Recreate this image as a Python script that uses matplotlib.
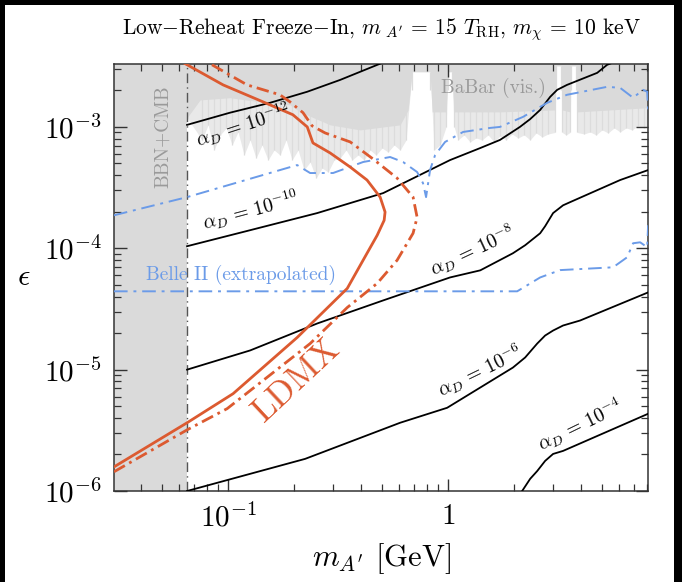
import numpy as np
import matplotlib.pyplot as plt
from matplotlib.patches import Rectangle

plt.rcParams['mathtext.fontset'] = 'cm'
plt.rcParams['font.family'] = ['cmr10', 'DejaVu Serif']
plt.rcParams['axes.formatter.use_mathtext'] = True

# alpha_D contours (m_A' in GeV, epsilon)
m_a12 = [0.0651, 0.102, 0.155, 0.229, 0.323, 0.491, 0.605]
eps_a12 = [1.04e-3, 1.31e-3, 1.58e-3, 1.95e-3, 2.44e-3, 3.32e-3, 3.79e-3]

m_a10 = [0.0651, 0.126, 0.254, 0.507, 1.02, 1.40, 1.72, 2.12, 2.36, 2.62, 2.91, 3.13, 3.47, 4.76,
         5.28, 6.38]
eps_a10 = [1.04e-4, 1.41e-4, 1.95e-4, 2.85e-4, 5.33e-4, 6.70e-4, 7.81e-4, 1.0e-3, 1.16e-3, 1.38e-3,
           1.77e-3, 2.02e-3, 2.22e-3, 2.79e-3, 3.25e-3, 3.71e-3]

m_a8 = [0.0651, 0.126, 0.254, 0.507, 1.02, 1.40, 1.97, 2.24, 2.62, 2.76, 3.0, 3.33, 3.585, 6.05, 8.11]
eps_a8 = [1.0e-5, 1.44e-5, 2.40e-5, 3.72e-5, 5.75e-5, 6.58e-5, 9.1e-5, 1.06e-4, 1.33e-4, 1.52e-4,
          1.95e-4, 2.26e-4, 2.40e-4, 3.65e-4, 4.41e-4]

m_a6 = [0.0651, 0.224, 0.605, 0.99, 1.97, 2.24, 2.54, 2.76, 3.0, 3.33, 3.98, 8.11]
eps_a6 = [1.0e-6, 1.84e-6, 3.65e-6, 4.85e-6, 1.04e-5, 1.26e-5, 1.64e-5, 1.91e-5, 2.10e-5, 2.31e-5,
          2.54e-5, 4.33e-5]

m_a4 = [1.9, 2.17, 2.36, 2.54, 2.76, 3.0, 3.33, 8.11]
eps_a4 = [7e-7, 1.0e-6, 1.26e-6, 1.46e-6, 1.77e-6, 2.02e-6, 2.14e-6, 4.33e-6]

# LDMX reach (solid and dash-dot)
m_ldmx = [0.0303, 0.0651, 0.1054, 0.206, 0.348, 0.428, 0.476, 0.512, 0.517, 0.491, 0.428, 0.359,
          0.291, 0.243, 0.229, 0.197, 0.144, 0.0949, 0.0638, 0.0545]
eps_ldmx = [1.58e-6, 3.65e-6, 6.34e-6, 1.84e-5, 4.67e-5, 9.1e-5, 1.28e-4, 1.70e-4, 1.99e-4, 2.64e-4,
            3.65e-4, 4.67e-4, 6.1e-4, 7.38e-4, 1.0e-3, 1.26e-3, 1.61e-3, 2.22e-3, 3.32e-3, 3.86e-3]

m_ldmx2 = [0.0303, 0.0651, 0.099, 0.236, 0.348, 0.476, 0.586, 0.693, 0.723, 0.693, 0.586, 0.456,
           0.359, 0.276, 0.241, 0.219, 0.191, 0.172, 0.122, 0.0828, 0.0708]
eps_ldmx2 = [1.44e-6, 3.19e-6, 4.77e-6, 1.64e-5, 3.25e-5, 5.14e-5, 7.96e-5, 1.33e-4, 1.80e-4, 2.64e-4,
             3.79e-4, 5.44e-4, 7.52e-4, 8.92e-4, 1.02e-3, 1.31e-3, 1.61e-3, 1.84e-3, 2.22e-3, 3.32e-3,
             3.79e-3]

# blue projections
m_vis = [0.0303, 0.0651, 0.206, 0.236, 0.300, 0.411, 0.545, 0.624, 0.723, 0.769, 0.794, 0.828, 0.873,
         0.969, 1.17, 1.55, 1.72, 2.19, 2.82, 3.47, 5.28, 6.05, 6.93, 7.69, 8.03, 8.11]
eps_vis = [1.87e-4, 2.64e-4, 4.85e-4, 4.17e-4, 4.17e-4, 5.14e-4, 5.65e-4, 5.14e-4, 4.25e-4, 3.44e-4,
           2.64e-4, 4.42e-4, 5.87e-4, 7.52e-4, 9.09e-4, 9.81e-4, 1.0e-3, 1.21e-3, 1.58e-3, 1.84e-3,
           2.14e-3, 2.10e-3, 1.74e-3, 2.02e-3, 1.95e-3, 1.38e-3]

m_belle = [0.0303, 2.06, 2.62, 3.23, 5.62, 6.51, 6.93, 7.46, 8.03, 8.11]
eps_belle = [4.42e-5, 4.42e-5, 5.75e-5, 6.61e-5, 6.97e-5, 8.43e-5, 1.10e-4, 1.12e-4, 1.02e-4, 1.55e-4]

# BaBar excluded region: dense part
m_babar = [0.0303, 0.0651, 0.0746, 0.102, 0.1397, 0.1914, 0.2122, 0.291, 0.398, 0.605, 0.658, 0.686,
           0.828, 0.846, 0.979, 1.0, 1.04, 1.065, 1.72, 3.06, 3.097, 3.264, 3.30, 3.585, 3.62, 3.818,
           3.858, 8.11]
eps_babar = [1.19e-3, 1.19e-3, 1.67e-3, 1.74e-3, 1.61e-3, 1.52e-3, 1.33e-3, 1.04e-3, 9.45e-4, 1.04e-3,
             1.38e-3, 2.85e-3, 2.85e-3, 1.33e-3, 1.33e-3, 2.85e-3, 2.85e-3, 1.33e-3, 1.33e-3, 1.38e-3,
             3.19e-3, 3.19e-3, 1.38e-3, 1.33e-3, 3.19e-3, 3.19e-3, 1.33e-3, 1.44e-3]

# BaBar streaky fringe (tips of the fine spikes)
m_fringe = [0.0651, 0.0762, 0.0811, 0.0864, 0.0920, 0.0981, 0.1043, 0.1110, 0.1182, 0.1259, 0.1340,
            0.1427, 0.1520, 0.1618, 0.1723, 0.1835, 0.1953, 0.2080, 0.2215, 0.2359, 0.2512, 0.2675,
            0.2848, 0.3033, 0.3229, 0.3439, 0.3662, 0.3899, 0.4151, 0.4420, 0.4707, 0.5012, 0.5337,
            0.5683, 0.6051, 0.6443, 0.686, 0.828, 0.8638, 0.9197, 0.979, 1.0, 1.04, 1.065, 1.110,
            1.182, 1.259, 1.340, 1.427, 1.520, 1.618, 1.723, 1.835, 1.953, 2.080, 2.215, 2.359, 2.512,
            2.675, 2.848, 3.06, 3.097, 3.264, 3.30, 3.439, 3.585, 3.62, 3.818, 3.858, 4.151, 4.420,
            4.707, 5.012, 5.337, 5.683, 6.051, 6.443, 6.861, 7.305, 7.779, 8.11]
eps_fringe = [1.19e-3, 7.81e-4, 1.04e-3, 6.45e-4, 8.59e-4, 9.81e-4, 7.10e-4, 9.09e-4, 5.87e-4,
              7.81e-4, 5.54e-4, 7.10e-4, 5.34e-4, 6.45e-4, 5.87e-4, 7.81e-4, 5.34e-4, 6.45e-4,
              4.41e-4, 5.14e-4, 3.79e-4, 4.58e-4, 4.25e-4, 5.34e-4, 5.54e-4, 6.45e-4, 5.34e-4,
              5.87e-4, 5.34e-4, 6.45e-4, 5.87e-4, 6.70e-4, 6.21e-4, 7.10e-4, 6.45e-4, 7.81e-4,
              2.85e-3, 2.85e-3, 6.45e-4, 7.10e-4, 1.0e-3, 2.85e-3, 2.85e-3, 1.0e-3, 7.81e-4, 8.59e-4,
              7.52e-4, 8.11e-4, 7.81e-4, 8.59e-4, 7.52e-4, 8.43e-4, 7.81e-4, 8.75e-4, 8.11e-4,
              8.59e-4, 7.81e-4, 8.92e-4, 8.27e-4, 8.75e-4, 9.0e-4, 3.19e-3, 3.19e-3, 9.0e-4, 8.59e-4,
              9.0e-4, 3.19e-3, 3.19e-3, 9.0e-4, 8.75e-4, 9.09e-4, 8.59e-4, 9.45e-4, 8.92e-4, 9.81e-4,
              9.09e-4, 9.81e-4, 9.45e-4, 1.02e-3, 9.81e-4, 1.0e-3]

m_bbn = 0.065

red = '#dc5a30'
blue = '#6b9be8'
grey = '#dadada'

fig = plt.figure(figsize=(6.82, 5.82), dpi=100, facecolor='black')
fig.patches.append(Rectangle((5 / 682, 0), 669 / 682, 577 / 582, transform=fig.transFigure,
                             facecolor='white', edgecolor='none', zorder=-10))
ax = fig.add_axes([114 / 682, 91 / 582, 534 / 682, 427 / 582])

ax.fill_between(m_fringe, eps_fringe, 1e-2, color='#e9e9e9', lw=0, zorder=0.8)
ax.vlines(m_fringe, eps_fringe, 2e-3, color='#dcdcdc', lw=0.9, zorder=0.9)
ax.fill_between(m_babar, eps_babar, 1e-2, color=grey, lw=0, zorder=1)
ax.axvspan(0.01, m_bbn, color=grey, lw=0, zorder=1)
ax.axvline(m_bbn, color='#555555', lw=1.0, ls=(0, (7, 3, 1, 3)), zorder=2)

for mm, ee in [(m_a12, eps_a12), (m_a10, eps_a10), (m_a8, eps_a8), (m_a6, eps_a6), (m_a4, eps_a4)]:
    ax.plot(mm, ee, color='black', lw=1.3, zorder=3)

ax.plot(m_vis, eps_vis, color=blue, lw=1.4, ls=(0, (7, 3, 1.5, 3)), zorder=4)
ax.plot(m_belle, eps_belle, color=blue, lw=1.4, ls=(0, (7, 3, 1.5, 3)), zorder=4)

ax.plot(m_ldmx, eps_ldmx, color=red, lw=2.0, zorder=5)
ax.plot(m_ldmx2, eps_ldmx2, color=red, lw=2.0, ls=(0, (4.5, 1.8, 1, 1.8)), zorder=5)

ax.set_xscale('log')
ax.set_yscale('log')
ax.set_xlim(0.0303, 8.1)
ax.set_ylim(1e-6, 3.3e-3)

ax.set_xticks([0.1, 1])
ax.set_xticklabels([r'$10^{-1}$', r'$1$'])
ax.set_yticks([1e-6, 1e-5, 1e-4, 1e-3])
ax.set_yticklabels([r'$10^{-6}$', r'$10^{-5}$', r'$10^{-4}$', r'$10^{-3}$'])
ax.tick_params(which='both', direction='in', top=True, right=True, color='#333333')
ax.tick_params(which='major', length=9, width=1.0, labelsize=21, pad=9)
ax.tick_params(which='minor', length=5, width=0.9)
for s in ax.spines.values():
    s.set_color('#333333')
    s.set_linewidth(1.1)

ax.set_xlabel(r"$m_{A'}$ [GeV]", fontsize=22, labelpad=6)
ax.set_ylabel(r'$\epsilon$', fontsize=22, rotation=0, labelpad=14, va='center')
ax.set_title(r"Low$-$Reheat Freeze$-$In, $m_{\ A'}$ = 15 $T_{\rm RH}$, $m_\chi$ = 10 keV",
             fontsize=15.5, pad=21)

lab = dict(ha='center', va='center', rotation_mode='anchor', zorder=6)
ax.text(0.117, 1.04e-3, r'$\alpha_D\,=\,10^{-12}$', fontsize=14, rotation=18, **lab)
ax.text(0.126, 2.06e-4, r'$\alpha_D\,=\,10^{-10}$', fontsize=14, rotation=15, **lab)
ax.text(1.29, 9.6e-5, r'$\alpha_D\,=\,10^{-8}$', fontsize=14, rotation=25, **lab)
ax.text(1.40, 9.8e-6, r'$\alpha_D\,=\,10^{-6}$', fontsize=14, rotation=26, **lab)
ax.text(3.98, 3.5e-6, r'$\alpha_D\,=\,10^{-4}$', fontsize=14, rotation=26, **lab)

ax.text(1.60, 2.10e-3, 'BaBar (vis.)', fontsize=14, color='#9a9a9a', **lab)
ax.text(0.0506, 8.26e-4, 'BBN+CMB', fontsize=14, color='#9a9a9a', rotation=90, **lab)
ax.text(0.1146, 5.98e-5, 'Belle II (extrapolated)', fontsize=14, color=blue, **lab)
ax.text(0.206, 8.1e-6, 'LDMX', fontsize=25, color=red, rotation=43, **lab)

fig.savefig('out.png', dpi=100, facecolor=fig.get_facecolor())
